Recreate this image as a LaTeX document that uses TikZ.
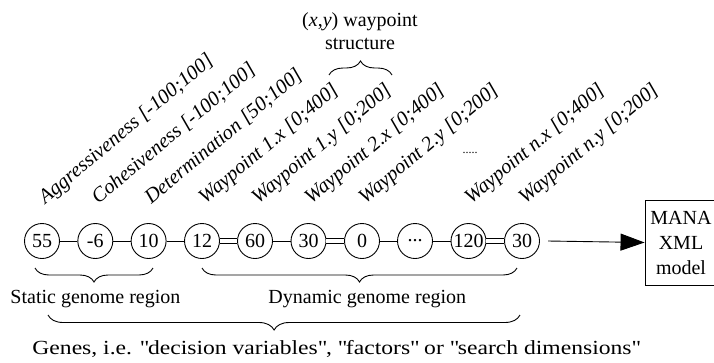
\documentclass[tikz,border=0pt]{standalone}
\usepackage{fontspec}
\setmainfont{Liberation Serif}
\newfontfamily\widefont{Liberation Serif}[FakeStretch=1.18]
\usetikzlibrary{arrows.meta,decorations.pathreplacing}
\begin{document}
\begin{tikzpicture}[x=1pt,y=-1pt,line width=0.9pt,
  gene/.style={circle,draw,minimum size=35pt,inner sep=0pt,
    font=\fontsize{20}{20}\selectfont},
  param/.style={anchor=base west,rotate=40,inner sep=0pt,
    font=\fontsize{20.5}{21}\selectfont\itshape},
  lbl/.style={inner sep=0pt,font=\fontsize{20}{23}\selectfont},
  link/.style={draw},
  dlink/.style={draw,double,double distance=3.5pt},
  brc/.style={decorate,decoration={brace,amplitude=14pt}},
  brcdown/.style={decorate,decoration={brace,mirror,amplitude=14pt}},
  outarrow/.style={-{Triangle[length=24pt,width=17pt]}}]
\useasboundingbox (0,0) rectangle (714,362);

% genome chain
\node[gene] (g1)  at (42,241)    {55};
\node[gene] (g2)  at (95.3,241)  {-6};
\node[gene] (g3)  at (148.6,241) {10};
\node[gene] (g4)  at (202,241)   {12};
\node[gene] (g5)  at (255,241)   {60};
\node[gene] (g6)  at (308.5,241) {30};
\node[gene] (g7)  at (362,241)   {0};
\node[gene] (g8)  at (415,241)   {...};
\node[gene] (g9)  at (468.5,241) {120};
\node[gene] (g10) at (522,241)   {30};

\draw[link]  (g1) -- (g2);
\draw[link]  (g2) -- (g3);
\draw[link]  (g3) -- (g4);
\draw[dlink] (g4) -- (g5);
\draw[link]  (g5) -- (g6);
\draw[dlink] (g6) -- (g7);
\draw[link]  (g7) -- (g8);
\draw[link]  (g8) -- (g9);
\draw[dlink] (g9) -- (g10);

% parameter names with ranges
\node[param] (p1)  at (45,205)  {Aggressiveness [-100;100]};
\node[param] (p2)  at (98,205)  {Cohesiveness [-100;100]};
\node[param] (p3)  at (151,205) {Determination [50;100]};
\node[param] (p4)  at (205,205) {Waypoint 1.x [0;400]};
\node[param] (p5)  at (258,205) {Waypoint 1.y [0;200]};
\node[param] (p6)  at (311,205) {Waypoint 2.x [0;400]};
\node[param] (p7)  at (365,205) {Waypoint 2.y [0;200]};
\node[param] (p9)  at (471,205) {Waypoint n.x [0;400]};
\node[param] (p10) at (525,205) {Waypoint n.y [0;200]};
\node[inner sep=0pt,anchor=base,font=\fontsize{12}{12}\selectfont] (gap) at (470,153) {.....};

% waypoint structure
\node[lbl,align=center,anchor=north] (wp) at (360,12) {(\textit{x},\textit{y}) waypoint\\structure};
\draw[brc] (329,75) -- (392,75);

% output model
\node[draw,minimum width=72pt,minimum height=85pt,inner sep=0pt,
  align=center,font=\fontsize{20}{25}\selectfont] (mana) at (681,242.5) {MANA\\XML\\model};
\coordinate (out) at (548,241);
\draw[outarrow] (out) -- (mana.west);

% genome regions
\draw[brcdown] (35,268) -- (153,268);
\draw[brcdown] (202,268) -- (517,268);
\node[lbl,anchor=base west] (stat) at (10,303) {Static genome region};
\node[lbl,anchor=base west] (dyn) at (268,303) {Dynamic genome region};
\draw[decorate,decoration={brace,mirror,amplitude=15pt,aspect=0.479}] (48,315) -- (520,315);
\node[lbl,anchor=base west,font=\fontsize{20}{23}\widefont] (genes) at (32,354)
  {Genes, i.e. \textquotedbl decision variables\textquotedbl, \textquotedbl factors\textquotedbl\ or \textquotedbl search dimensions\textquotedbl};
\end{tikzpicture}
\end{document}
